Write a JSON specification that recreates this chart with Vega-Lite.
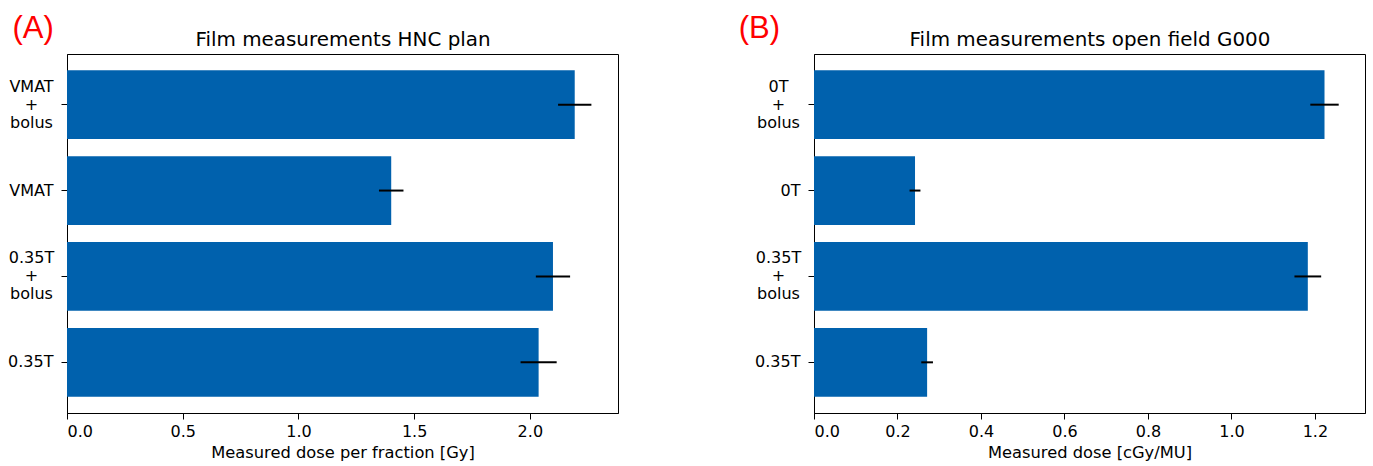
{
  "$schema": "https://vega.github.io/schema/vega-lite/v6.json",
  "background": "white",
  "padding": {"left": 7, "top": 12, "right": 0, "bottom": 0},
  "bounds": "flush",
  "spacing": 196,
  "config": {
    "font": "DejaVu Sans",
    "view": {"stroke": "black", "strokeWidth": 1},
    "axis": {
      "grid": false,
      "domainColor": "black",
      "tickColor": "black",
      "labelColor": "black",
      "titleColor": "black",
      "labelFont": "DejaVu Sans",
      "titleFont": "DejaVu Sans",
      "labelFontSize": 16,
      "titleFontSize": 16.3,
      "titleFontWeight": "normal",
      "tickSize": 6,
      "labelPadding": 4,
      "domainWidth": 1,
      "tickWidth": 1
    }
  },
  "datasets": {
    "hnc": [
      {"setup": "VMAT + bolus", "dose": 2.194, "err": 0.072},
      {"setup": "VMAT", "dose": 1.401, "err": 0.053},
      {"setup": "0.35T + bolus", "dose": 2.100, "err": 0.074},
      {"setup": "0.35T", "dose": 2.038, "err": 0.078}
    ],
    "open": [
      {"setup": "0T + bolus", "dose": 1.223, "err": 0.034},
      {"setup": "0T", "dose": 0.242, "err": 0.013},
      {"setup": "0.35T + bolus", "dose": 1.183, "err": 0.032},
      {"setup": "0.35T", "dose": 0.271, "err": 0.014}
    ]
  },
  "hconcat": [
    {
      "width": 551,
      "height": 359,
      "data": {"name": "hnc"},
      "layer": [
        {
          "mark": {"type": "bar", "color": "#0061ad"},
          "encoding": {
            "y": {
              "field": "setup", "type": "nominal",
              "sort": ["VMAT + bolus", "VMAT", "0.35T + bolus", "0.35T"],
              "scale": {"paddingInner": 0.2, "paddingOuter": 0.19},
              "axis": {
                "title": "(A)", "titleAngle": 0, "titleAlign": "left", "titleBaseline": "alphabetic",
                "titleX": -55, "titleY": -16.5, "titleFont": "Liberation Sans", "titleFontSize": 31, "titleColor": "#ff0000",
                "labelExpr": "split(datum.label, ' ')", "labelLineHeight": 18,
                "labelAlign": {"condition": {"test": "indexof(datum.value, '+') >= 0", "value": "center"}, "value": "right"},
                "labelPadding": {"condition": {"test": "indexof(datum.value, '+') >= 0", "value": 30}, "value": 8},
                "labelOffset": {"condition": {"test": "indexof(datum.value, '+') >= 0", "value": -18}, "value": 0}
              }
            },
            "x": {
              "field": "dose", "type": "quantitative",
              "scale": {"domain": [0, 2.381], "nice": false},
              "axis": {"orient": "bottom", "values": [0, 0.5, 1, 1.5, 2], "format": ".1f", "title": "Measured dose per fraction [Gy]", "titlePadding": 5}
            }
          }
        },
        {
          "mark": {"type": "errorbar", "color": "black", "thickness": 2},
          "encoding": {
            "y": {"field": "setup", "type": "nominal", "sort": ["VMAT + bolus", "VMAT", "0.35T + bolus", "0.35T"]},
            "x": {
              "field": "dose", "type": "quantitative",
              "axis": {"orient": "top", "ticks": false, "labels": false, "domain": false, "title": "Film measurements HNC plan", "titleFontSize": 19.9, "titlePadding": 5}
            },
            "xError": {"field": "err"}
          }
        }
      ]
    },
    {
      "width": 551,
      "height": 359,
      "data": {"name": "open"},
      "layer": [
        {
          "mark": {"type": "bar", "color": "#0061ad"},
          "encoding": {
            "y": {
              "field": "setup", "type": "nominal",
              "sort": ["0T + bolus", "0T", "0.35T + bolus", "0.35T"],
              "scale": {"paddingInner": 0.2, "paddingOuter": 0.19},
              "axis": {
                "title": "(B)", "titleAngle": 0, "titleAlign": "left", "titleBaseline": "alphabetic",
                "titleX": -75.7, "titleY": -16.5, "titleFont": "Liberation Sans", "titleFontSize": 31, "titleColor": "#ff0000",
                "labelExpr": "split(datum.label, ' ')", "labelLineHeight": 18,
                "labelAlign": {"condition": {"test": "indexof(datum.value, '+') >= 0", "value": "center"}, "value": "right"},
                "labelPadding": {"condition": {"test": "indexof(datum.value, '+') >= 0", "value": 30}, "value": 8},
                "labelOffset": {"condition": {"test": "indexof(datum.value, '+') >= 0", "value": -18}, "value": 0}
              }
            },
            "x": {
              "field": "dose", "type": "quantitative",
              "scale": {"domain": [0, 1.32], "nice": false},
              "axis": {"orient": "bottom", "values": [0, 0.2, 0.4, 0.6, 0.8, 1.0, 1.2], "format": ".1f", "title": "Measured dose [cGy/MU]", "titlePadding": 5}
            }
          }
        },
        {
          "mark": {"type": "errorbar", "color": "black", "thickness": 2},
          "encoding": {
            "y": {"field": "setup", "type": "nominal", "sort": ["0T + bolus", "0T", "0.35T + bolus", "0.35T"]},
            "x": {
              "field": "dose", "type": "quantitative",
              "axis": {"orient": "top", "ticks": false, "labels": false, "domain": false, "title": "Film measurements open field G000", "titleFontSize": 19.9, "titlePadding": 5}
            },
            "xError": {"field": "err"}
          }
        }
      ]
    }
  ]
}
